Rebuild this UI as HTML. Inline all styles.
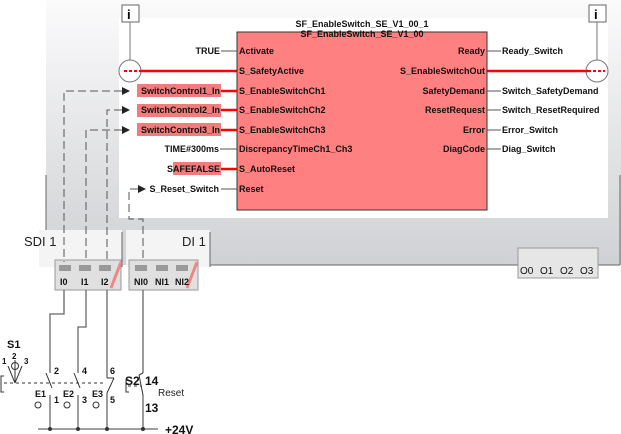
<!DOCTYPE html>
<html><head><style>
html,body{margin:0;padding:0;background:#fff;}
svg{display:block;font-family:"Liberation Sans",sans-serif;}
.t{font-size:9px;font-weight:bold;fill:#111;}
</style></head><body>
<svg width="621" height="434" viewBox="0 0 621 434">
<defs>
<linearGradient id="g" x1="0" y1="0" x2="0" y2="1"><stop offset="0" stop-color="#fbfbfc"/><stop offset="1" stop-color="#d0d1d4"/></linearGradient>
</defs>
<rect x="46" y="0" width="575" height="265" fill="url(#g)"/>
<line x1="46" y1="175" x2="46" y2="265" stroke="#666"/>
<line x1="620" y1="175" x2="620" y2="265" stroke="#666"/>
<line x1="210" y1="265" x2="620" y2="265" stroke="#666"/>
<rect x="119" y="18" width="489" height="200" fill="#fff"/>
<rect x="39" y="230" width="83" height="37" fill="#f4f4f5"/>
<line x1="122" y1="232" x2="122" y2="267" stroke="#666"/>
<rect x="126" y="230" width="84" height="37" fill="#f4f4f5"/>
<line x1="210" y1="232" x2="210" y2="267" stroke="#666"/>
<text x="24" y="246" font-size="13" fill="#222">SDI 1</text>
<text x="182" y="246" font-size="13" fill="#222">DI 1</text>
<rect x="55" y="260" width="66" height="30" fill="#e0e0e0" stroke="#999"/>
<rect x="129" y="260" width="69" height="30" fill="#e0e0e0" stroke="#999"/>
<g fill="#999">
<rect x="59" y="265" width="12" height="6"/><rect x="79" y="265" width="12" height="6"/><rect x="99" y="265" width="12" height="6"/>
<rect x="135" y="265" width="12" height="6"/><rect x="156" y="265" width="12" height="6"/><rect x="176" y="265" width="12" height="6"/>
<rect x="522" y="252" width="12" height="6"/><rect x="541" y="252" width="12" height="6"/><rect x="561" y="252" width="12" height="6"/><rect x="581" y="252" width="12" height="6"/>
</g>
<line x1="111" y1="288" x2="121" y2="262" stroke="#e88" stroke-width="3"/>
<line x1="187" y1="288" x2="197" y2="262" stroke="#e88" stroke-width="3"/>
<g><text x="60" y="285" class="t">I0</text><text x="81" y="285" class="t">I1</text><text x="101" y="285" class="t">I2</text>
<text x="134" y="285" class="t">NI0</text><text x="155" y="285" class="t">NI1</text><text x="175" y="285" class="t">NI2</text></g>
<rect x="518" y="248" width="80" height="30" fill="#e6e6e6" stroke="#999"/>
<g font-size="10" fill="#111"><text x="520" y="274">O0</text><text x="540" y="274">O1</text><text x="560" y="274">O2</text><text x="580" y="274">O3</text></g>
<rect x="122" y="5" width="17" height="17" fill="#fff" stroke="#666"/><text x="127" y="19" font-size="13" font-weight="bold">i</text>
<rect x="589" y="5" width="17" height="17" fill="#fff" stroke="#666"/><text x="594" y="19" font-size="13" font-weight="bold">i</text>
<line x1="130" y1="22" x2="130" y2="60" stroke="#777"/>
<line x1="597" y1="22" x2="597" y2="60" stroke="#777"/>
<circle cx="130" cy="71" r="11" fill="#fff" stroke="#777"/>
<circle cx="597" cy="71" r="11" fill="#fff" stroke="#777"/>
<line x1="124" y1="71" x2="140" y2="71" stroke="#f00" stroke-width="2" stroke-dasharray="3,2"/>
<line x1="588" y1="71" x2="605" y2="71" stroke="#f00" stroke-width="2" stroke-dasharray="3,2"/>
<line x1="140" y1="71" x2="237" y2="71" stroke="#f00" stroke-width="2.5"/>
<line x1="487" y1="71" x2="588" y2="71" stroke="#f00" stroke-width="2.5"/>
<rect x="237" y="32" width="250" height="178" fill="#ff8080" stroke="#333"/>
<text x="362" y="27" text-anchor="middle" class="t">SF_EnableSwitch_SE_V1_00_1</text>
<text x="362" y="37" text-anchor="middle" class="t">SF_EnableSwitch_SE_V1_00</text>
<rect x="137" y="84" width="84" height="13" fill="#f07c7c"/>
<rect x="137" y="104" width="84" height="13" fill="#f07c7c"/>
<rect x="137" y="123" width="84" height="13" fill="#f07c7c"/>
<rect x="173" y="162" width="48" height="13" fill="#f07c7c"/>
<g stroke="#555"><line x1="221" y1="51" x2="237" y2="51"/><line x1="220" y1="149" x2="237" y2="149"/><line x1="221" y1="189" x2="237" y2="189"/></g>
<g stroke="#f00" stroke-width="2.5"><line x1="221" y1="91" x2="237" y2="91"/><line x1="221" y1="110" x2="237" y2="110"/><line x1="221" y1="130" x2="237" y2="130"/><line x1="221" y1="169" x2="237" y2="169"/></g>
<g class="t" text-anchor="end">
<text x="220" y="54">TRUE</text><text x="220" y="94">SwitchControl1_In</text><text x="220" y="113">SwitchControl2_In</text>
<text x="220" y="133">SwitchControl3_In</text><text x="219" y="152">TIME#300ms</text><text x="220" y="172">SAFEFALSE</text><text x="219" y="192">S_Reset_Switch</text>
<text x="485" y="54">Ready</text><text x="485" y="74">S_EnableSwitchOut</text><text x="485" y="94">SafetyDemand</text>
<text x="485" y="113">ResetRequest</text><text x="485" y="133">Error</text><text x="485" y="152">DiagCode</text>
</g>
<g class="t">
<text x="239" y="54">Activate</text><text x="239" y="74">S_SafetyActive</text><text x="239" y="94">S_EnableSwitchCh1</text>
<text x="239" y="113">S_EnableSwitchCh2</text><text x="239" y="133">S_EnableSwitchCh3</text><text x="239" y="152">DiscrepancyTimeCh1_Ch3</text>
<text x="239" y="172">S_AutoReset</text><text x="239" y="192">Reset</text>
<text x="502" y="54">Ready_Switch</text><text x="502" y="94">Switch_SafetyDemand</text><text x="502" y="113">Switch_ResetRequired</text>
<text x="502" y="133">Error_Switch</text><text x="502" y="152">Diag_Switch</text>
</g>
<g stroke="#555"><line x1="487" y1="51" x2="501" y2="51"/><line x1="487" y1="91" x2="501" y2="91"/><line x1="487" y1="110" x2="501" y2="110"/><line x1="487" y1="130" x2="501" y2="130"/><line x1="487" y1="149" x2="501" y2="149"/></g>
<g fill="none" stroke="#555" stroke-dasharray="8,4">
<polyline points="122,91 64,91 64,262"/>
<polyline points="122,110 107,110 107,262"/>
<polyline points="122,130 86,130 86,262"/>
<polyline points="138,189 129,189 129,219 143,219 143,262"/>
</g>
<g fill="#222"><polygon points="122,87 130,91 122,95"/><polygon points="122,106 130,110 122,114"/><polygon points="122,126 130,130 122,134"/><polygon points="138,185 146,189 138,193"/></g>
<g fill="none" stroke="#666" stroke-width="1.3">
<polyline points="64,290 64,314 50,314 50,370"/><polyline points="86,290 86,327 78,327 78,370"/>
<polyline points="107,290 107,378"/><polyline points="143,290 143,373"/>
<polyline points="50,395 50,429"/><polyline points="78,395 78,429"/><polyline points="107,393 107,429"/><polyline points="143,395 143,429"/>
<line x1="38" y1="429" x2="158" y2="429"/>
</g>
<g stroke="#333" fill="none">
<line x1="50" y1="370" x2="50" y2="373"/><line x1="46" y1="373" x2="52" y2="388"/>
<line x1="78" y1="370" x2="78" y2="373"/><line x1="74" y1="373" x2="80" y2="388"/>
<line x1="107" y1="378" x2="114" y2="378"/><line x1="114" y1="378" x2="107" y2="393"/>
<line x1="143" y1="373" x2="139" y2="375"/><line x1="139" y1="375" x2="143" y2="395"/>
<line x1="4" y1="383" x2="106" y2="383" stroke-dasharray="3,3"/>
<polyline points="4,376 1,376 1,392 4,392"/>
<polyline points="129,380 126,380 126,392 129,392"/><line x1="128" y1="386" x2="141" y2="386" stroke-dasharray="3,3"/>
<circle cx="15" cy="366" r="3.5"/><line x1="15" y1="360" x2="15" y2="383"/><line x1="8" y1="366" x2="15" y2="383"/><line x1="22" y1="366" x2="15" y2="383"/>
<circle cx="38" cy="405" r="3"/><circle cx="67" cy="405" r="3"/><circle cx="96" cy="405" r="3"/>
</g>
<g fill="#333"><circle cx="50" cy="429" r="2"/><circle cx="78" cy="429" r="2"/><circle cx="107" cy="429" r="2"/><circle cx="143" cy="429" r="2"/></g>
<g font-size="9" font-weight="bold" fill="#111">
<text x="7" y="348" font-size="11">S1</text><text x="2" y="364" font-size="8">1</text><text x="12" y="359" font-size="8">2</text><text x="24" y="364" font-size="8">3</text>
<text x="54" y="374">2</text><text x="82" y="374">4</text><text x="110" y="374">6</text>
<text x="35" y="397">E1</text><text x="63" y="397">E2</text><text x="92" y="397">E3</text>
<text x="54" y="403">1</text><text x="82" y="403">3</text><text x="110" y="403">5</text>
<text x="125" y="385" font-size="12">S2</text><text x="145" y="385" font-size="12">14</text><text x="145" y="412" font-size="12">13</text>
<text x="165" y="434" font-size="12">+24V</text>
</g>
<text x="158" y="396" font-size="10" fill="#222">Reset</text>
</svg>
</body></html>
